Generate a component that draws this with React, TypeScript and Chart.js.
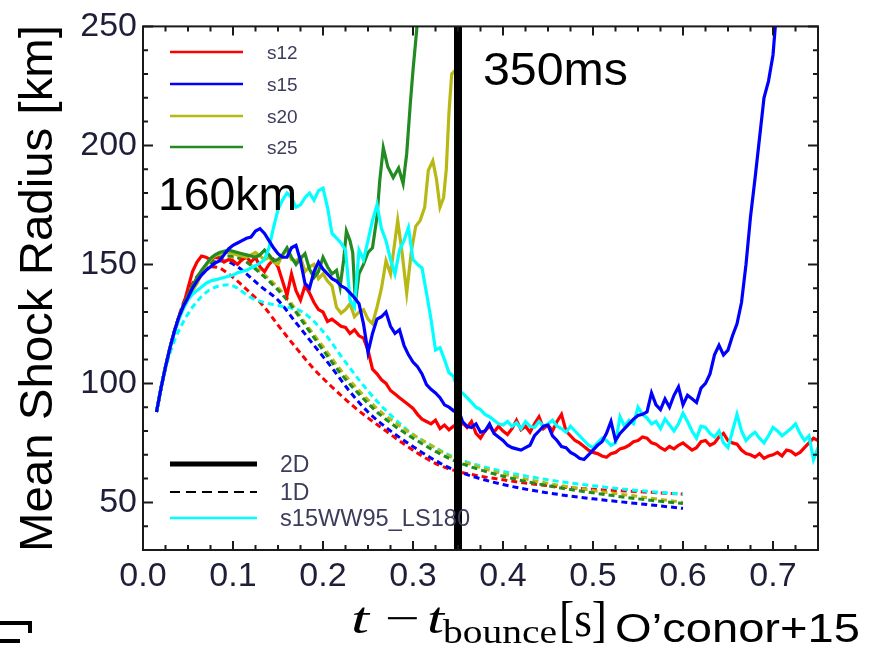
import React, { useEffect, useRef } from "react";
import { Chart, registerables } from "chart.js";

Chart.register(...registerables);

// ---- Data: [t - t_bounce (s), mean shock radius (km)] ----
const S12_2D: [number, number][] = [
  [0.015, 88], [0.02, 98], [0.025, 107], [0.03, 115], [0.035, 122], [0.04, 128], [0.045, 133], [0.05, 140],
  [0.055, 147], [0.06, 151], [0.065, 153.5], [0.07, 153], [0.075, 152], [0.08, 153], [0.085, 152.5], [0.09, 151],
  [0.095, 152], [0.1, 151.5], [0.105, 150], [0.11, 152], [0.115, 153], [0.12, 151], [0.125, 153], [0.13, 149],
  [0.135, 147], [0.14, 150], [0.145, 152], [0.15, 149], [0.155, 143], [0.16, 137], [0.165, 146], [0.17, 139],
  [0.175, 135], [0.18, 141], [0.185, 138], [0.19, 134], [0.195, 131], [0.2, 130], [0.205, 126], [0.21, 127],
  [0.215, 125.5], [0.22, 124], [0.225, 123.5], [0.23, 121], [0.235, 122.5], [0.24, 120], [0.245, 119], [0.25, 114],
  [0.255, 106], [0.26, 104], [0.265, 101.5], [0.27, 100], [0.275, 97], [0.28, 95.5], [0.285, 94], [0.29, 92.5],
  [0.295, 91], [0.3, 89.5], [0.305, 87], [0.31, 85], [0.315, 84], [0.32, 83], [0.325, 84.5], [0.33, 81],
  [0.335, 82.5], [0.34, 80.5], [0.345, 82], [0.35, 81], [0.355, 83.5], [0.36, 81.5], [0.365, 84], [0.37, 79],
  [0.375, 77], [0.38, 80], [0.385, 82], [0.39, 79.5], [0.395, 82], [0.4, 80], [0.405, 78.5], [0.41, 81],
  [0.415, 84.5], [0.42, 80.5], [0.425, 82], [0.43, 79.5], [0.435, 83], [0.44, 86], [0.445, 81], [0.45, 82.5],
  [0.455, 80], [0.46, 84], [0.465, 87], [0.47, 80], [0.475, 78], [0.48, 76], [0.485, 75], [0.49, 73.5],
  [0.495, 72], [0.5, 71], [0.505, 70.5], [0.51, 69.5], [0.515, 69], [0.52, 70.5], [0.525, 71], [0.53, 72.5],
  [0.535, 73], [0.54, 74], [0.545, 75.5], [0.55, 76], [0.555, 77.5], [0.56, 77], [0.565, 75], [0.57, 74.5],
  [0.575, 73], [0.58, 72], [0.585, 73.5], [0.59, 72.5], [0.595, 74], [0.6, 75], [0.605, 73.5], [0.61, 72],
  [0.615, 73], [0.62, 75.5], [0.625, 76], [0.63, 74], [0.635, 75], [0.64, 77.5], [0.645, 79], [0.65, 76],
  [0.655, 75], [0.66, 74.5], [0.665, 72], [0.67, 70.5], [0.675, 70], [0.68, 69], [0.685, 70.5], [0.69, 68.5],
  [0.695, 69.5], [0.7, 70], [0.705, 71], [0.71, 69.5], [0.715, 72], [0.72, 71.5], [0.725, 70], [0.73, 71],
  [0.735, 73], [0.74, 75], [0.745, 77], [0.75, 76],
];

const S15_2D: [number, number][] = [
  [0.015, 88], [0.02, 98], [0.025, 107], [0.03, 115], [0.035, 122], [0.04, 128], [0.045, 132.5], [0.05, 136],
  [0.055, 140], [0.06, 143], [0.065, 145.5], [0.07, 147.5], [0.075, 149], [0.08, 150.5], [0.085, 151.5], [0.09, 154],
  [0.095, 156.5], [0.1, 158], [0.105, 159], [0.11, 160], [0.115, 161], [0.12, 161.5], [0.125, 164], [0.13, 165],
  [0.135, 163], [0.14, 160], [0.145, 157], [0.15, 154.5], [0.155, 153], [0.16, 153], [0.165, 157], [0.17, 158],
  [0.175, 151.5], [0.18, 142], [0.185, 140], [0.19, 147], [0.195, 151], [0.2, 148], [0.205, 146], [0.21, 144],
  [0.215, 143], [0.22, 141], [0.225, 140], [0.23, 138], [0.235, 136], [0.24, 133.5], [0.245, 125], [0.25, 113],
  [0.255, 121], [0.26, 127], [0.265, 128], [0.27, 130], [0.275, 124], [0.28, 121], [0.285, 122.5], [0.29, 116],
  [0.295, 112], [0.3, 109], [0.305, 107], [0.31, 104], [0.315, 99.5], [0.32, 97.5], [0.325, 96], [0.33, 94],
  [0.335, 91], [0.34, 90], [0.345, 88.5], [0.35, 89.5], [0.355, 84], [0.36, 82], [0.365, 81.5], [0.37, 83],
  [0.375, 79.5], [0.38, 80], [0.385, 83], [0.39, 79], [0.395, 77.5], [0.4, 76], [0.405, 74], [0.41, 73],
  [0.415, 72.5], [0.42, 72], [0.425, 73], [0.43, 74], [0.435, 78], [0.44, 80], [0.445, 82], [0.45, 82.5],
  [0.455, 78], [0.46, 76], [0.465, 73.5], [0.47, 73], [0.475, 71], [0.48, 70], [0.485, 68.5], [0.49, 68],
  [0.495, 70], [0.5, 72], [0.505, 74], [0.51, 75.5], [0.515, 79], [0.52, 84], [0.525, 76], [0.53, 79],
  [0.535, 81], [0.54, 83], [0.545, 85], [0.55, 86.5], [0.555, 87], [0.56, 88], [0.565, 96], [0.57, 91],
  [0.575, 89], [0.58, 93.5], [0.585, 90], [0.59, 95], [0.595, 98.5], [0.6, 91], [0.605, 95], [0.61, 93.5],
  [0.615, 92], [0.62, 98], [0.625, 100], [0.63, 104], [0.635, 112], [0.64, 116], [0.645, 112], [0.65, 114],
  [0.655, 120], [0.66, 125], [0.665, 134], [0.67, 150], [0.675, 170], [0.68, 186], [0.685, 203], [0.69, 220],
  [0.695, 227], [0.7, 238], [0.703, 252],
];

const S20_2D: [number, number][] = [
  [0.015, 88], [0.02, 98], [0.025, 107], [0.03, 115], [0.035, 122], [0.04, 127.5], [0.045, 132], [0.05, 136],
  [0.055, 139], [0.06, 142], [0.065, 146], [0.07, 149.5], [0.075, 152], [0.08, 153.5], [0.085, 154.5], [0.09, 155],
  [0.095, 155], [0.1, 154.5], [0.105, 154], [0.11, 153.5], [0.115, 153], [0.12, 154], [0.125, 155], [0.13, 153.5],
  [0.135, 152], [0.14, 153], [0.145, 151], [0.15, 150], [0.155, 154], [0.16, 156], [0.165, 152], [0.17, 151.5],
  [0.175, 153], [0.18, 147], [0.185, 149], [0.19, 150], [0.195, 144], [0.2, 146], [0.205, 143], [0.21, 141],
  [0.215, 132], [0.22, 129.5], [0.225, 131], [0.23, 133.5], [0.235, 128], [0.24, 130], [0.245, 131], [0.25, 127],
  [0.255, 125], [0.26, 132], [0.265, 140], [0.27, 151.5], [0.275, 146], [0.28, 160], [0.283, 168.5], [0.288, 154.5],
  [0.293, 138], [0.298, 155], [0.303, 166], [0.308, 168.5], [0.313, 174], [0.317, 189.5], [0.322, 193.5], [0.326, 186],
  [0.33, 174], [0.334, 178], [0.337, 190], [0.34, 214], [0.343, 230], [0.347, 231.5], [0.35, 238],
];

const S25_2D: [number, number][] = [
  [0.015, 88], [0.02, 98], [0.025, 107], [0.03, 115], [0.035, 122], [0.04, 128], [0.045, 133], [0.05, 137],
  [0.055, 141], [0.06, 144.5], [0.065, 147.5], [0.07, 150], [0.075, 152.5], [0.08, 154], [0.085, 155], [0.09, 155.5],
  [0.095, 156], [0.1, 155.5], [0.105, 155], [0.11, 154.5], [0.115, 154], [0.12, 153.5], [0.125, 153], [0.13, 154],
  [0.135, 156], [0.14, 154], [0.145, 151.5], [0.15, 152], [0.155, 154], [0.16, 157], [0.165, 153], [0.17, 150],
  [0.175, 152.5], [0.18, 154.5], [0.185, 148], [0.19, 144.5], [0.195, 147], [0.2, 153], [0.205, 149], [0.21, 146],
  [0.215, 147.5], [0.219, 140.5], [0.223, 152], [0.226, 164], [0.23, 160], [0.233, 155], [0.236, 134], [0.24, 146],
  [0.245, 150], [0.25, 155], [0.255, 157], [0.26, 170], [0.263, 185], [0.267, 199], [0.272, 191], [0.278, 186.5],
  [0.284, 190.5], [0.289, 184], [0.293, 196.5], [0.297, 217.5], [0.3, 231.5], [0.304, 248], [0.306, 258],
];

const LS180_2D: [number, number][] = [
  [0.015, 88], [0.02, 98], [0.025, 107], [0.03, 115], [0.035, 121.5], [0.04, 127], [0.045, 131.5], [0.05, 135],
  [0.055, 137.5], [0.06, 139], [0.065, 140.5], [0.07, 142], [0.075, 143], [0.08, 143.5], [0.085, 144], [0.09, 144.5],
  [0.095, 145], [0.1, 145.5], [0.105, 146.5], [0.11, 147], [0.115, 147.5], [0.12, 148.5], [0.125, 149.5], [0.13, 150.5],
  [0.135, 152], [0.14, 157], [0.145, 165.5], [0.15, 173], [0.155, 177], [0.16, 180], [0.165, 178], [0.17, 174],
  [0.175, 175], [0.18, 178], [0.185, 180], [0.19, 177], [0.195, 181], [0.2, 182], [0.205, 174], [0.21, 163],
  [0.215, 161], [0.22, 159], [0.225, 156], [0.23, 135], [0.235, 132], [0.24, 156], [0.245, 152], [0.25, 160],
  [0.255, 168.5], [0.26, 175], [0.265, 165], [0.27, 160], [0.275, 152], [0.28, 146], [0.285, 156], [0.29, 160],
  [0.295, 165.5], [0.3, 152], [0.305, 150], [0.31, 148.5], [0.315, 138], [0.32, 127], [0.325, 114], [0.33, 115],
  [0.335, 110], [0.34, 104.5], [0.345, 103], [0.35, 97], [0.355, 96], [0.36, 94], [0.365, 92], [0.37, 90],
  [0.375, 89], [0.38, 87], [0.385, 86], [0.39, 84.5], [0.395, 83], [0.4, 82.5], [0.405, 84], [0.41, 82],
  [0.415, 83.5], [0.42, 81], [0.425, 84], [0.43, 82], [0.435, 81.5], [0.44, 84], [0.445, 82], [0.45, 83],
  [0.455, 84.5], [0.46, 82], [0.465, 81], [0.47, 79.5], [0.475, 82], [0.48, 80], [0.485, 78], [0.49, 76],
  [0.495, 74], [0.5, 73], [0.505, 75], [0.51, 77], [0.515, 76], [0.52, 74], [0.525, 75], [0.53, 86],
  [0.535, 82], [0.54, 84.5], [0.545, 83], [0.55, 90], [0.555, 87], [0.56, 85.5], [0.565, 83], [0.57, 84],
  [0.575, 81], [0.58, 85], [0.585, 82.5], [0.59, 80], [0.595, 83], [0.6, 87.5], [0.605, 84], [0.61, 80],
  [0.615, 77], [0.62, 82], [0.625, 81.5], [0.63, 79], [0.635, 77.5], [0.64, 80], [0.645, 75], [0.65, 73],
  [0.655, 80], [0.66, 87], [0.665, 80], [0.67, 76], [0.675, 78], [0.68, 79.5], [0.685, 77], [0.69, 75],
  [0.695, 78], [0.7, 81.5], [0.705, 80], [0.71, 78], [0.715, 79.5], [0.72, 81], [0.725, 83], [0.73, 79],
  [0.735, 76], [0.74, 78], [0.745, 68], [0.75, 73],
];

const S12_1D: [number, number][] = [
  [0.015, 88], [0.025, 107], [0.035, 122], [0.045, 134], [0.055, 142], [0.065, 147], [0.075, 149], [0.085, 148.5],
  [0.095, 146], [0.105, 143], [0.115, 139.5], [0.125, 136], [0.135, 132], [0.15, 124.5], [0.17, 115], [0.19, 106],
  [0.21, 98.5], [0.23, 91.6], [0.25, 85.5], [0.27, 80], [0.29, 74.5], [0.31, 69.5], [0.33, 65.5], [0.35, 63],
  [0.4, 59.5], [0.45, 57], [0.5, 55.5], [0.55, 54.5], [0.6, 53.5],
];
const S15_1D: [number, number][] = [
  [0.015, 88], [0.025, 107], [0.035, 122], [0.045, 133], [0.055, 141], [0.065, 146.5], [0.075, 150], [0.085, 151.5],
  [0.095, 151], [0.105, 149], [0.115, 146], [0.13, 141], [0.15, 135], [0.17, 125.5], [0.19, 116], [0.21, 106.5],
  [0.23, 96.5], [0.25, 88], [0.27, 81.5], [0.29, 76], [0.31, 71], [0.33, 66.5], [0.35, 63], [0.4, 57.5],
  [0.45, 54], [0.5, 51.5], [0.55, 49.5], [0.6, 47.5],
];
const S20_1D: [number, number][] = [
  [0.015, 88], [0.025, 107], [0.035, 122], [0.045, 133], [0.055, 141], [0.065, 147], [0.075, 151], [0.085, 152.5],
  [0.095, 153], [0.105, 152.5], [0.115, 151], [0.125, 148.5], [0.14, 144], [0.16, 136], [0.18, 125.5], [0.2, 115.5],
  [0.22, 105.5], [0.24, 97], [0.26, 89.5], [0.28, 83.5], [0.3, 78.5], [0.32, 74], [0.34, 69.5], [0.36, 66.5],
  [0.4, 62], [0.45, 58], [0.5, 55], [0.55, 52.5], [0.6, 50],
];
const S25_1D: [number, number][] = [
  [0.015, 88], [0.025, 107], [0.035, 122], [0.045, 133], [0.055, 141], [0.065, 147], [0.075, 151], [0.085, 153],
  [0.095, 153.5], [0.105, 153], [0.115, 151], [0.125, 148], [0.14, 143], [0.16, 135], [0.18, 124.5], [0.2, 114],
  [0.22, 104], [0.24, 95.5], [0.26, 88], [0.28, 82], [0.3, 77], [0.32, 72.5], [0.34, 68.5], [0.36, 65.5],
  [0.4, 61], [0.45, 57], [0.5, 54], [0.55, 51.5], [0.6, 49.5],
];
const LS180_1D: [number, number][] = [
  [0.015, 88], [0.025, 106], [0.035, 118], [0.045, 126], [0.055, 132], [0.065, 136.5], [0.075, 139.5], [0.085, 141],
  [0.095, 141.5], [0.105, 140], [0.12, 136], [0.14, 133.5], [0.16, 132], [0.175, 130.5], [0.19, 126], [0.205, 119.5],
  [0.22, 111.5], [0.24, 101.5], [0.26, 92.5], [0.28, 85], [0.3, 78.5], [0.32, 74], [0.34, 70], [0.36, 67],
  [0.4, 63], [0.45, 59.5], [0.5, 57], [0.55, 55], [0.6, 53.5],
];

const MARK_T = 0.35; // 350 ms marker
const X_MIN = 0, X_MAX = 0.75, X_STEP = 0.025;
const Y_MIN = 30, Y_MAX = 250, Y_STEP = 10;

const MODEL_LABELS = ["s12", "s15", "s20", "s25"];
const MODEL_COLORS = ["#ff0000", "#0000ff", "#b8b814", "#228b22"];
const CYAN = "#00ffff";
const STYLE_LABELS = ["2D", "1D", "s15WW95_LS180"];

const SANS = '"Liberation Sans", Arial, Helvetica, sans-serif';
const SERIF = '"Liberation Serif", "Times New Roman", serif';
const TICK_COLOR = "#1e1e38";
const LEGEND_TEXT = "#3c3c5c";

const pts = (a: [number, number][]) => a.map(([x, y]) => ({ x, y }));

function drawText(ctx: CanvasRenderingContext2D, text: string, x: number, y: number, font: string, width?: number, color = "#000") {
  ctx.save();
  ctx.font = font;
  ctx.fillStyle = color;
  ctx.textBaseline = "alphabetic";
  ctx.textAlign = "left";
  const w = ctx.measureText(text).width;
  const s = width ? width / w : 1;
  ctx.translate(x, y);
  ctx.scale(s, 1);
  ctx.fillText(text, 0, 0);
  ctx.restore();
}

const decorPlugin = {
  id: "decor",
  afterDatasetsDraw(chart: any) {
    const { ctx, chartArea: ca, scales } = chart;
    const xs = scales.x, ys = scales.y;
    ctx.save();
    // frame
    ctx.strokeStyle = "#1a1a1a";
    ctx.lineWidth = 2;
    ctx.strokeRect(ca.left, ca.top, ca.right - ca.left, ca.bottom - ca.top);
    // inward ticks on all four sides
    ctx.lineWidth = 2;
    ctx.beginPath();
    const nX = Math.round((X_MAX - X_MIN) / X_STEP);
    for (let i = 0; i <= nX; i++) {
      const v = X_MIN + i * X_STEP;
      const px = xs.getPixelForValue(v);
      const major = i % 4 === 0;
      const len = major ? 9 : 5;
      ctx.moveTo(px, ca.bottom); ctx.lineTo(px, ca.bottom - len);
      ctx.moveTo(px, ca.top); ctx.lineTo(px, ca.top + len);
    }
    const nY = Math.round((Y_MAX - Y_MIN) / Y_STEP);
    for (let i = 0; i <= nY; i++) {
      const v = Y_MIN + i * Y_STEP;
      const py = ys.getPixelForValue(v);
      const major = v % 50 === 0;
      const len = major ? 10 : 5;
      ctx.moveTo(ca.left, py); ctx.lineTo(ca.left + len, py);
      ctx.moveTo(ca.right, py); ctx.lineTo(ca.right - len, py);
    }
    ctx.stroke();

    // upper legend (models)
    const lx0 = ca.left + 27, lx1 = ca.left + 100;
    const ly = [52, 84, 116, 147];
    MODEL_LABELS.forEach((lab, i) => {
      ctx.strokeStyle = MODEL_COLORS[i];
      ctx.lineWidth = 2.5;
      ctx.setLineDash([]);
      ctx.beginPath(); ctx.moveTo(lx0, ly[i]); ctx.lineTo(lx1, ly[i]); ctx.stroke();
      drawText(ctx, lab, ca.left + 124, ly[i] + 7, `19px ${SANS}`, undefined, LEGEND_TEXT);
    });

    // lower legend (styles)
    const sy = [464, 492, 518];
    const sx1 = ca.left + 114;
    ctx.strokeStyle = "#000"; ctx.lineWidth = 5; ctx.setLineDash([]);
    ctx.beginPath(); ctx.moveTo(lx0, sy[0]); ctx.lineTo(sx1, sy[0]); ctx.stroke();
    ctx.lineWidth = 2; ctx.setLineDash([10, 6]);
    ctx.beginPath(); ctx.moveTo(lx0, sy[1]); ctx.lineTo(sx1, sy[1]); ctx.stroke();
    ctx.setLineDash([]);
    ctx.strokeStyle = CYAN; ctx.lineWidth = 2.5;
    ctx.beginPath(); ctx.moveTo(lx0, sy[2]); ctx.lineTo(sx1, sy[2]); ctx.stroke();
    STYLE_LABELS.forEach((lab, i) => {
      drawText(ctx, lab, ca.left + 137, sy[i] + 8, `23px ${SANS}`, i === 2 ? 190 : undefined, LEGEND_TEXT);
    });

    ctx.restore();
  },
  afterDraw(chart: any) {
    const { ctx } = chart;
    ctx.save();
    // annotations
    drawText(ctx, "160km", 158, 210, `46px ${SANS}`, 139);
    drawText(ctx, "350ms", 483, 85, `46px ${SANS}`, 145);

    // y-axis title (rotated)
    ctx.save();
    ctx.translate(52, 552);
    ctx.rotate(-Math.PI / 2);
    drawText(ctx, "Mean Shock Radius [km]", 0, 0, `47px ${SANS}`, 527);
    ctx.restore();

    // x-axis title: t − t_bounce [s]
    drawText(ctx, "t", 351, 633, `italic 44px ${SERIF}`, 18);
    drawText(ctx, "\u2212", 385, 633, `44px ${SERIF}`, 35);
    drawText(ctx, "t", 427, 633, `italic 44px ${SERIF}`, 17);
    drawText(ctx, "bounce", 443, 643, `34px ${SERIF}`, 114);
    drawText(ctx, "[s]", 559, 636, `50px ${SERIF}`, 48);

    // citation
    drawText(ctx, "O\u2019conor+15", 615, 642, `41px ${SANS}`, 245);

    // cropped glyph fragment at bottom-left corner
    ctx.fillStyle = "#000";
    ctx.fillRect(0, 621, 32, 4);
    ctx.fillRect(28, 621, 4, 12);
    ctx.fillRect(0, 639, 20, 4);
    ctx.restore();
  },
};

export default function App() {
  const ref = useRef<HTMLCanvasElement | null>(null);
  useEffect(() => {
    if (!ref.current) return;
    const solid = (data: [number, number][], color: string) => ({
      data: pts(data), borderColor: color, borderWidth: 3.2, pointRadius: 0, tension: 0, fill: false,
    });
    const dashed = (data: [number, number][], color: string) => ({
      data: pts(data), borderColor: color, borderWidth: 3, pointRadius: 0, fill: false,
      borderDash: [6, 4], cubicInterpolationMode: "monotone" as const,
    });
    const chart = new Chart(ref.current, {
      type: "line",
      data: {
        datasets: [
          { data: [{ x: MARK_T, y: Y_MIN }, { x: MARK_T, y: Y_MAX }], borderColor: "#000", borderWidth: 8, pointRadius: 0, clip: false } as any,
          solid(S15_2D, MODEL_COLORS[1]),
          solid(LS180_2D, CYAN),
          solid(S25_2D, MODEL_COLORS[3]),
          solid(S20_2D, MODEL_COLORS[2]),
          solid(S12_2D, MODEL_COLORS[0]),
          dashed(S25_1D, MODEL_COLORS[3]),
          dashed(S20_1D, MODEL_COLORS[2]),
          dashed(LS180_1D, CYAN),
          dashed(S15_1D, MODEL_COLORS[1]),
          dashed(S12_1D, MODEL_COLORS[0]),
        ],
      },
      options: {
        responsive: false,
        animation: false,
        layout: { padding: { top: 25, right: 51, left: 0, bottom: 0 } },
        plugins: { legend: { display: false }, tooltip: { enabled: false } },
        scales: {
          x: {
            type: "linear", min: X_MIN, max: X_MAX,
            grid: { display: false, drawTicks: false },
            border: { display: false },
            afterFit: (s: any) => { s.height = 101; },
            ticks: {
              stepSize: X_STEP, autoSkip: false, maxRotation: 0, padding: 6,
              color: TICK_COLOR, font: { family: SANS, size: 34 },
              callback: (v: any) => {
                const n = Number(v) * 10;
                return Math.abs(n - Math.round(n)) < 1e-6 ? Number(v).toFixed(1) : "";
              },
            },
          },
          y: {
            type: "linear", min: Y_MIN, max: Y_MAX,
            grid: { display: false, drawTicks: false },
            border: { display: false },
            afterFit: (s: any) => { s.width = 143; },
            ticks: {
              stepSize: Y_STEP, autoSkip: false, padding: 6,
              color: TICK_COLOR, font: { family: SANS, size: 34 },
              callback: (v: any) => (Number(v) % 50 === 0 ? String(v) : ""),
            },
          },
        },
      },
      plugins: [decorPlugin],
    });
    return () => chart.destroy();
  }, []);
  return (
    <div style={{ position: "fixed", left: 0, top: 0, width: 869, height: 651, background: "#fff" }}>
      <canvas ref={ref} width={869} height={651} />
    </div>
  );
}
